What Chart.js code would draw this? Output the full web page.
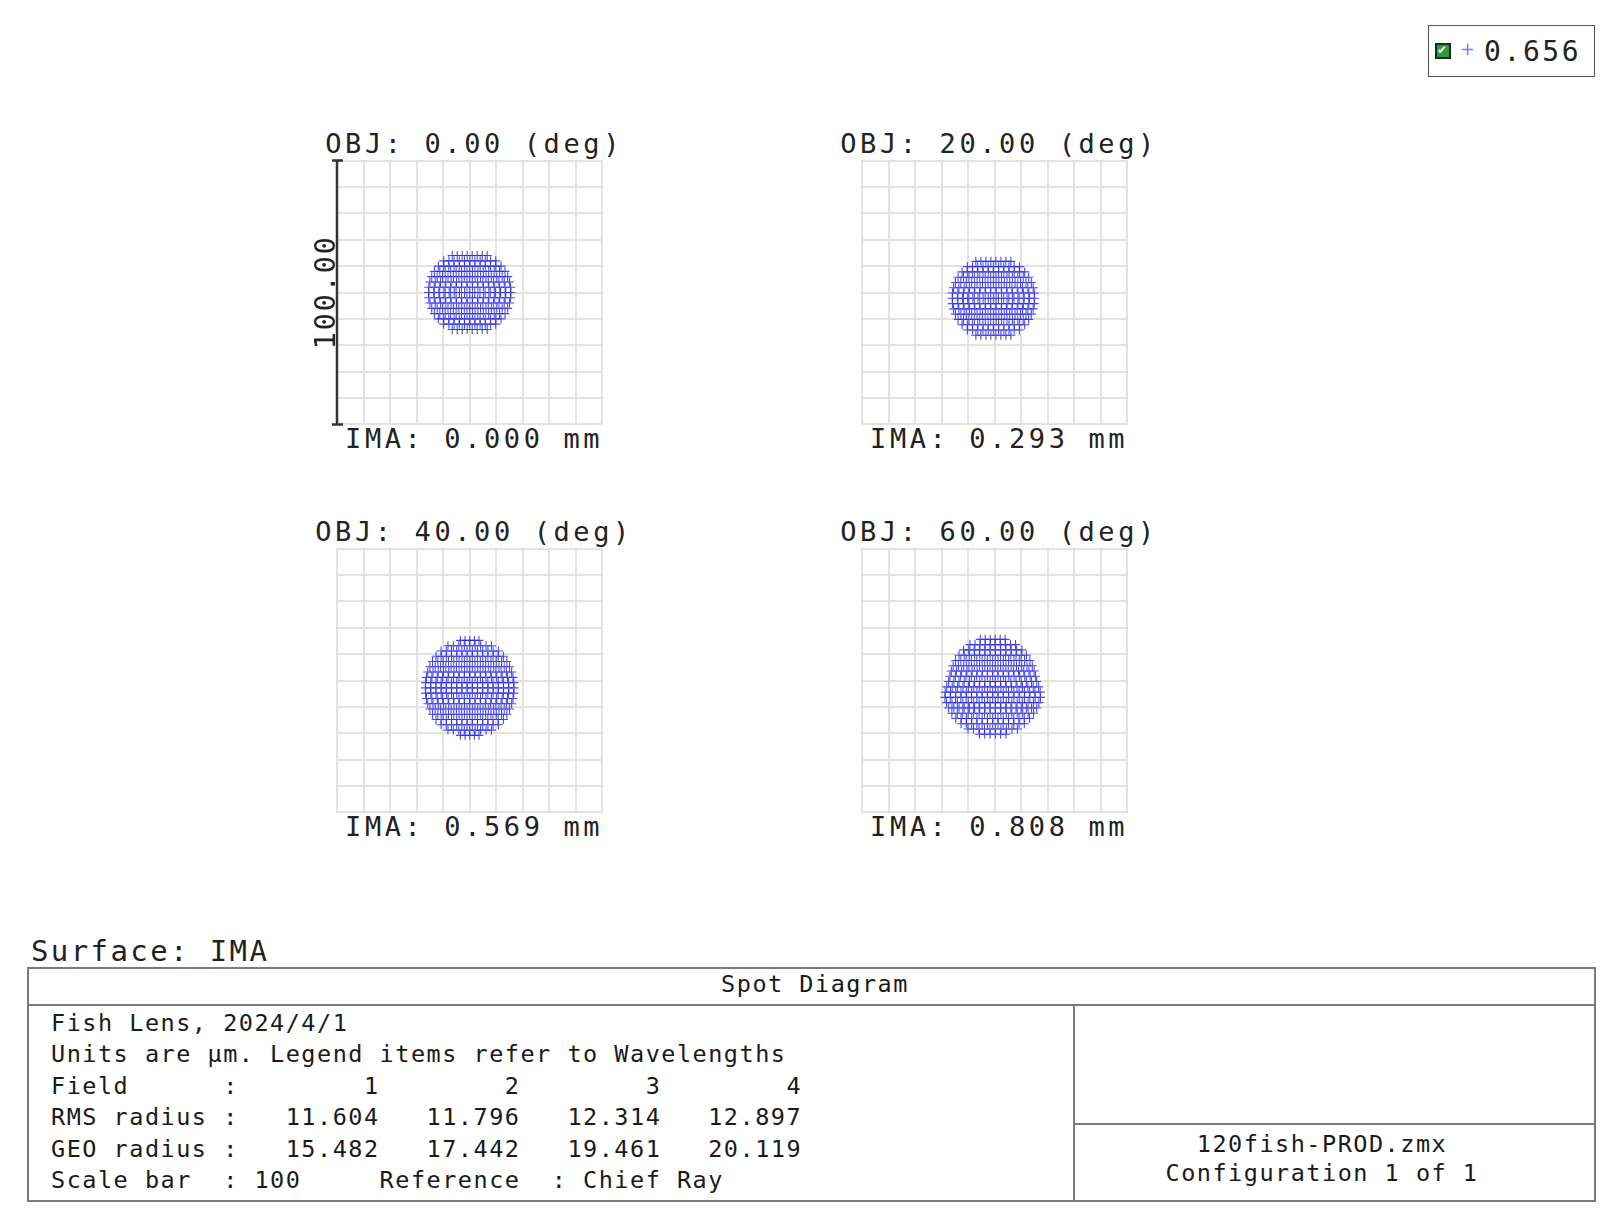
<!DOCTYPE html>
<html>
<head>
<meta charset="utf-8">
<script src="https://cdn.jsdelivr.net/npm/chart.js@4.4.1/dist/chart.umd.min.js"></script>
<style>
  body { margin: 0; width: 1622px; height: 1228px; background: #fff; position: relative; overflow: hidden;
         font-family: "DejaVu Sans Mono", monospace; color: #222; }
  .t { position: absolute; white-space: pre; line-height: 1; }
  .ttl { font-size: 27px; letter-spacing: 3.6px; width: 420px; text-align: center; padding-left: 3.6px; }
  .tab { font-size: 23.5px; letter-spacing: 1.5px; color: #1a1a1a; }
  canvas { position: absolute; }
  .ln { position: absolute; background: #7a7a7a; }
</style>
</head>
<body>

<div class="t" style="left:1428px;top:25px;width:165px;height:50px;border:1.5px solid #555;"></div>
<div class="t" style="left:1435px;top:43px;width:12px;height:12px;border:2px solid #1d2a1d;background:#2f9a3a;"></div>
<div class="t" style="left:1437px;top:44px;font-size:12px;color:#e8ffe8;font-family:'DejaVu Sans';">&#10004;</div>
<div class="t" style="left:1460px;top:40px;font-size:18px;color:#7c7cff;font-family:'DejaVu Sans';">+</div>
<div class="t" style="left:1484px;top:38px;font-size:28px;letter-spacing:2.6px;">0.656</div>

<div id="titles"></div>

<div class="t" style="left:31px;top:937px;font-size:29px;letter-spacing:2.4px;">Surface: IMA</div>

<div class="ln" style="left:27px;top:967px;width:1569px;height:1.5px;"></div>
<div class="ln" style="left:27px;top:1004px;width:1569px;height:1.5px;"></div>
<div class="ln" style="left:27px;top:1200px;width:1569px;height:1.5px;"></div>
<div class="ln" style="left:27px;top:967px;width:1.5px;height:235px;"></div>
<div class="ln" style="left:1594px;top:967px;width:1.5px;height:235px;"></div>
<div class="ln" style="left:1073px;top:1004px;width:1.5px;height:197px;"></div>
<div class="ln" style="left:1073px;top:1123px;width:522px;height:1.5px;"></div>

<div class="t tab" style="left:615px;top:973px;width:400px;text-align:center;">Spot Diagram</div>
<div id="info"></div>
<div class="t tab" style="left:1122px;top:1133px;width:400px;text-align:center;">120fish-PROD.zmx</div>
<div class="t tab" style="left:1122px;top:1162px;width:400px;text-align:center;">Configuration 1 of 1</div>

<script>
// field data
const fieldAngles = ["0.00", "20.00", "40.00", "60.00"];
const imaHeights = ["0.000", "0.293", "0.569", "0.808"];
const rmsRadius = ["11.604", "11.796", "12.314", "12.897"];
const geoRadius = ["15.482", "17.442", "19.461", "20.119"];
const wavelengths = ["0.656"];
const scaleBar = 100;

// spot outline, per ray row: [y, half width] in µm
const spotCx = [0, -0.5, 0, -0.75];
const spot1Rows = [[14,6.6],[12,9.8],[10,11.8],[8,13.3],[6,14.3],[4,15.0],[2,15.4],[0,15.5],
  [-2,15.4],[-4,15.0],[-6,14.3],[-8,13.3],[-10,11.8],[-12,9.8],[-14,6.6]];
const spot2Rows = [[11.8,6.6],[9.8,9.8],[7.8,11.8],[5.8,13.3],[3.8,14.3],[1.8,15.0],[-0.2,15.4],[-2.2,15.5],
  [-4.2,15.4],[-6.2,15.0],[-8.2,14.3],[-10.2,13.3],[-12.2,11.8],[-14.2,9.8],[-16.2,6.6]];
const spot3Rows = [[15.2,3.5],[13.2,8.2],[11.2,10.8],[9.2,12.7],[7.2,14.0],[5.2,15.0],[3.2,15.8],[1.2,16.3],
  [-0.8,16.6],[-2.8,16.7],[-4.8,16.6],[-6.8,16.3],[-8.8,15.8],[-10.8,15.0],[-12.8,14.0],[-14.8,12.7],
  [-16.8,10.8],[-18.8,8.2],[-20.8,3.5]];
const spot4Rows = [[15.6,4.7],[13.6,8.6],[11.6,11.0],[9.6,12.7],[7.6,14.0],[5.6,14.9],[3.6,15.6],[1.6,16.1],
  [-0.4,16.6],[-2.4,17.3],[-4.4,17.9],[-6.4,18.0],[-8.4,17.4],[-10.4,16.6],[-12.4,15.4],[-14.4,13.9],
  [-16.4,11.9],[-18.4,9.3],[-20.4,5.0]];
const spotRows = [spot1Rows, spot2Rows, spot3Rows, spot4Rows];

// plot boxes on the page
const boxX = [337, 862, 337, 862];
const boxY = [159, 159, 547, 547];
const boxW = 267, boxH = 267;
const gridCol = "rgb(226,226,226)";

function spotPoints(cx, rows) {
  const pts = [];
  rows.forEach(([y, hw]) => {
    const n = Math.max(1, Math.round(hw) + 1);
    for (let i = 0; i < n; i++) {
      pts.push({ x: n === 1 ? cx : cx - hw + (2 * hw * i) / (n - 1), y: y });
    }
  });
  return pts;
}

// scale bar on the first box
const scaleBarPlugin = {
  id: "scaleBar",
  afterDraw(chart) {
    const c = chart.ctx;
    const x = chart.scales.x.getPixelForValue(-50);
    const yTop = chart.scales.y.getPixelForValue(-50 + scaleBar);
    const yBot = chart.scales.y.getPixelForValue(-50);
    c.save();
    c.strokeStyle = "#333";
    c.lineWidth = 2.5;
    c.beginPath();
    c.moveTo(x, yTop); c.lineTo(x, yBot);
    c.moveTo(x - 5, yTop); c.lineTo(x + 6, yTop);
    c.moveTo(x - 5, yBot); c.lineTo(x + 6, yBot);
    c.stroke();
    c.translate(x - 2, (yTop + yBot) / 2);
    c.rotate(-Math.PI / 2);
    c.font = '29px "DejaVu Sans Mono"';
    c.letterSpacing = "1.5px";
    c.fillStyle = "#222";
    c.textAlign = "center";
    c.textBaseline = "alphabetic";
    c.fillText(scaleBar.toFixed(2), 0, 0);
    c.restore();
  }
};

const titles = document.getElementById("titles");
for (let i = 0; i < 4; i++) {
  const cx = boxX[i] + boxW / 2;
  const obj = document.createElement("div");
  obj.className = "t ttl";
  obj.style.left = (cx - 210) + "px";
  obj.style.top = (boxY[i] - 29) + "px";
  obj.textContent = "OBJ: " + fieldAngles[i] + " (deg)";
  titles.appendChild(obj);
  const ima = document.createElement("div");
  ima.className = "t ttl";
  ima.style.left = (cx - 210) + "px";
  ima.style.top = (boxY[i] + 266) + "px";
  ima.textContent = "IMA: " + imaHeights[i] + " mm";
  titles.appendChild(ima);

  const cv = document.createElement("canvas");
  cv.width = boxW + 44;
  cv.height = boxH + 8;
  cv.style.left = (boxX[i] - 40) + "px";
  cv.style.top = (boxY[i] - 4) + "px";
  document.body.appendChild(cv);

  const axis = {
    min: -50, max: 50,
    ticks: { display: false, stepSize: 10 },
    grid: { color: gridCol, lineWidth: 2, drawTicks: false },
    border: { display: true, color: gridCol, width: 2 }
  };
  new Chart(cv, {
    type: "scatter",
    data: {
      datasets: [{
        label: wavelengths[0],
        data: spotPoints(spotCx[i], spotRows[i]),
        pointStyle: "cross",
        pointRadius: 4.5,
        borderWidth: 1.1,
        borderColor: "rgba(40,40,230,0.85)"
      }]
    },
    options: {
      responsive: false,
      animation: false,
      events: [],
      layout: { padding: { left: 40, top: 4, right: 4, bottom: 4 } },
      plugins: { legend: { display: false }, tooltip: { enabled: false } },
      scales: { x: axis, y: axis }
    },
    plugins: i === 0 ? [scaleBarPlugin] : []
  });
}

// text block of the table
const pad = (s, n) => s.padStart(n);
const infoLines = [
  "Fish Lens, 2024/4/1",
  "Units are \u00b5m. Legend items refer to Wavelengths",
  "Field      :" + [1, 2, 3, 4].map(f => pad(String(f), 9)).join(""),
  "RMS radius :" + rmsRadius.map(v => pad(v, 9)).join(""),
  "GEO radius :" + geoRadius.map(v => pad(v, 9)).join(""),
  "Scale bar  : " + scaleBar + "     Reference  : Chief Ray"
];
const infoTop = [1012, 1043, 1075, 1106, 1138, 1169];
const info = document.getElementById("info");
infoLines.forEach((s, k) => {
  const d = document.createElement("div");
  d.className = "t tab";
  d.style.left = "51px";
  d.style.top = infoTop[k] + "px";
  d.textContent = s;
  info.appendChild(d);
});
</script>
</body>
</html>
